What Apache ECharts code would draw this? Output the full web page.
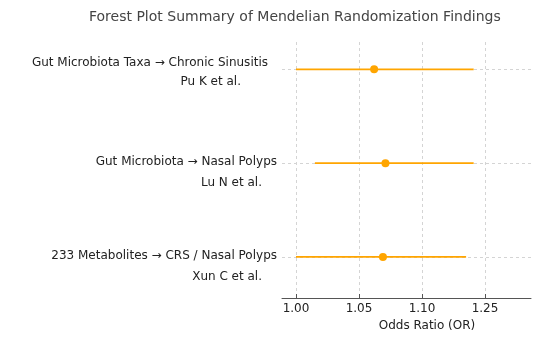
<!DOCTYPE html>
<html>
<head>
<meta charset="utf-8">
<script src="https://cdn.jsdelivr.net/npm/echarts@6/dist/echarts.min.js"></script>
<style>html,body{margin:0;padding:0;background:#fff}#c{width:550px;height:354px}</style>
</head>
<body>
<div id="c"></div>
<script>
var titleText = 'Forest Plot Summary of Mendelian Randomization Findings';
var comparisons = ['Gut Microbiota Taxa \u2192 Chronic Sinusitis', 'Gut Microbiota \u2192 Nasal Polyps', '233 Metabolites \u2192 CRS / Nasal Polyps'];
var authors = ['Pu K et al.', 'Lu N et al.', 'Xun C et al.'];
var orValues = [1.062, 1.071, 1.069];
var ciLower = [1.000, 1.015, 1.000];
var ciUpper = [1.141, 1.141, 1.135];
var tickValues = [1.00, 1.05, 1.10, 1.15];
var tickLabels = ['1.00', '1.05', '1.10', '1.25'];
var xAxisName = 'Odds Ratio (OR)';

var rowIdx = comparisons.map(function (_, i) { return i; });
var pointData = orValues.map(function (v, i) { return [v, i]; });
var ciData = ciLower.map(function (lo, i) { return [lo, ciUpper[i], i]; });

var rich = {
  m0: { fontSize: 12, color: '#222', lineHeight: 26, padding: [0, 9, 0, 0], fontFamily: 'DejaVu Sans' },
  a0: { fontSize: 12, color: '#222', lineHeight: 12, padding: [0, 36, 0, 0], fontFamily: 'DejaVu Sans' },
  m1: { fontSize: 12, color: '#222', lineHeight: 39, padding: [0, 0, 0, 0], fontFamily: 'DejaVu Sans' },
  a1: { fontSize: 12, color: '#222', lineHeight: 2, padding: [0, 15, 0, 0], fontFamily: 'DejaVu Sans' }
};

var chart = echarts.init(document.getElementById('c'), null, { renderer: 'canvas' });
chart.setOption({
  backgroundColor: '#fff',
  animation: false,
  title: {
    text: titleText, left: 84, top: 5,
    textStyle: { fontFamily: 'DejaVu Sans', fontSize: 14, fontWeight: 'normal', color: '#444' }
  },
  grid: { left: 282, right: 19, top: 42, bottom: 56 },
  xAxis: {
    type: 'value', min: 0.9889, max: 1.1865,
    name: xAxisName, nameLocation: 'middle', nameGap: 17,
    nameTextStyle: { fontFamily: 'DejaVu Sans', fontSize: 12, color: '#222', padding: [0, 0, 0, 41] },
    axisLine: { show: true, onZero: false, lineStyle: { color: '#555', width: 1 } },
    axisTick: { show: true, inside: true, length: 4, customValues: tickValues, lineStyle: { color: '#555' } },
    axisLabel: {
      customValues: tickValues, margin: 5,
      fontFamily: 'DejaVu Sans', fontSize: 12, color: '#222',
      formatter: function (v) {
        for (var i = 0; i < tickValues.length; i++) if (Math.abs(tickValues[i] - v) < 1e-6) return tickLabels[i];
        return '';
      }
    },
    splitLine: { show: true, lineStyle: { color: '#d4d4d4', type: [3, 3], width: 1 } }
  },
  yAxis: {
    type: 'value', inverse: true, min: -0.291, max: 2.4375,
    axisLine: { show: false },
    axisTick: { show: false, customValues: rowIdx },
    axisLabel: {
      customValues: rowIdx, margin: 5,
      formatter: function (v) {
        var i = Math.round(v);
        var k = i === 0 ? '0' : '1';
        return '{m' + k + '|' + comparisons[i] + '}\n{a' + k + '|' + authors[i] + '}';
      },
      rich: rich
    },
    splitLine: { show: true, lineStyle: { color: '#d4d4d4', type: [3, 3], width: 1 } }
  },
  series: [
    {
      type: 'custom',
      data: ciData,
      encode: { x: [0, 1], y: 2 },
      renderItem: function (params, api) {
        var p1 = api.coord([api.value(0), api.value(2)]);
        var p2 = api.coord([api.value(1), api.value(2)]);
        return { type: 'line', shape: { x1: p1[0], y1: p1[1], x2: p2[0], y2: p2[1] },
                 style: { stroke: '#FFA500', lineWidth: 1.8 } };
      },
      z: 3
    },
    {
      type: 'scatter',
      data: pointData,
      symbol: 'circle', symbolSize: 8,
      itemStyle: { color: '#FFA500', opacity: 1 },
      z: 4
    }
  ]
});
</script>
</body>
</html>
